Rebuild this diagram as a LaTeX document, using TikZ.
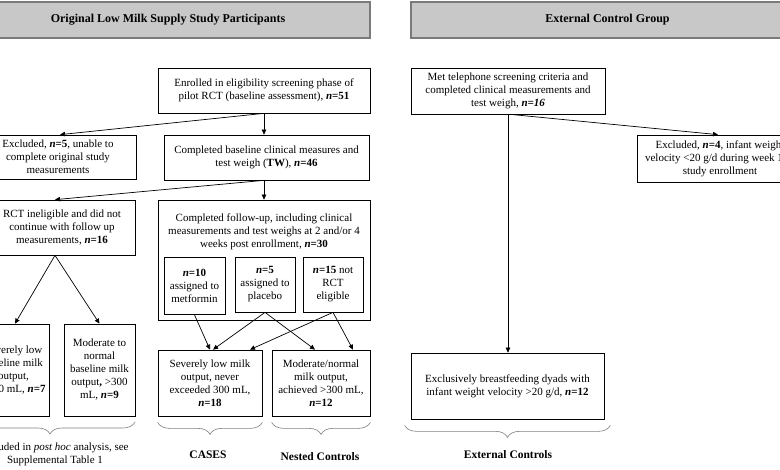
\documentclass[tikz,border=0pt]{standalone}
\usepackage{fontspec}
\setmainfont{Liberation Serif}
\usetikzlibrary{arrows.meta,decorations.pathreplacing}
\definecolor{hdrfill}{HTML}{C8C8C8}
\definecolor{hdrline}{HTML}{7A7A7A}
\definecolor{bracecol}{HTML}{808080}
\begin{document}
\begin{tikzpicture}[x=1pt,y=-1pt,
  txt/.style={font=\fontsize{11}{13}\selectfont},
  box/.style={txt,draw=black,line width=0.7pt,align=center,inner sep=1pt},
  hdr/.style={draw=hdrline,fill=hdrfill,line width=1.3pt,font=\fontsize{12}{14}\selectfont\bfseries},
  arr/.style={draw=black,line width=0.7pt,-{Triangle[length=5pt,width=4.5pt]}},
  brc/.style={draw=bracecol,line width=0.6pt,decorate,decoration={brace,mirror,amplitude=12pt}},
  lbl/.style={txt,align=center},
  blbl/.style={font=\fontsize{11.5}{13}\selectfont\bfseries}]
\useasboundingbox (0,0) rectangle (780,470);
\clip (0,0) rectangle (780,470);
\fill[white] (0,0) rectangle (780,470);
% headers
\node[hdr,minimum width=404pt,minimum height=36pt] (hl) at (168,20) {Original Low Milk Supply Study Participants};
\node[hdr,minimum width=393pt,minimum height=36pt] (hr) at (607.5,20) {External Control Group};
% left column
\node[box,minimum width=212pt,minimum height=45pt] (enr) at (264,90.5)
  {Enrolled in eligibility screening phase of\\ pilot RCT (baseline assessment), \textbf{\textit{n}=51}};
\node[box,minimum width=156pt,minimum height=44pt] (excl5) at (58,157)
  {Excluded, \textbf{\textit{n}=5}, unable to\\ complete original study\\ measurements};
\node[box,minimum width=205pt,minimum height=45pt] (base) at (266.5,157.5)
  {Completed baseline clinical measures and\\ test weigh (\textbf{TW}), \textbf{\textit{n}=46}};
\node[box,minimum width=146pt,minimum height=55pt] (inel) at (62,227.5)
  {RCT ineligible and did not\\ continue with follow up\\ measurements, \textbf{\textit{n}=16}};
\node[box,minimum width=212pt,minimum height=120pt] (fu) at (264,260) {};
\node[lbl] (futxt) at (264,232)
  {Completed follow-up, including clinical\\ measurements and test weighs at 2 and/or 4\\ weeks post enrollment, \textbf{\textit{n}=30}};
\node[box,minimum width=61pt,minimum height=57pt] (met) at (194.5,286)
  {\textbf{\textit{n}=10}\\ assigned to\\ metformin};
\node[box,minimum width=60pt,minimum height=55pt] (plac) at (265,284.5)
  {\textbf{\textit{n}=5}\\ assigned to\\ placebo};
\node[box,minimum width=60pt,minimum height=55pt] (nrct) at (333,284.5)
  {\textbf{\textit{n}=15} not\\ RCT\\ eligible};
\node[box,minimum width=71pt,minimum height=92pt] (sevL) at (13.5,370)
  {Severely low\\ baseline milk\\ output,\\ <300 mL, \textbf{\textit{n}=7}};
\node[box,minimum width=71pt,minimum height=92pt] (modL) at (99.5,370)
  {Moderate to\\ normal\\ baseline milk\\ output\textbf{,} >300\\ mL, \textbf{\textit{n}=9}};
\node[box,minimum width=104pt,minimum height=66pt] (cases) at (210,383)
  {Severely low milk\\ output, never\\ exceeded 300 mL,\\ \textbf{\textit{n}=18}};
\node[box,minimum width=98pt,minimum height=66pt] (nctl) at (321,383)
  {Moderate/normal\\ milk output,\\ achieved >300 mL,\\ \textbf{\textit{n}=12}};
% right column
\node[box,minimum width=194pt,minimum height=46pt] (mtel) at (508,91)
  {Met telephone screening criteria and\\ completed clinical measurements and\\ test weigh, \textbf{\textit{n=16}}};
\node[box,minimum width=166pt,minimum height=47pt] (excl4) at (720,158.5)
  {Excluded, \textbf{\textit{n}=4}, infant weight\\ velocity <20 g/d during week 1 of\\ study enrollment};
\node[box,minimum width=193pt,minimum height=66pt] (extc) at (507.5,386)
  {Exclusively breastfeeding dyads with\\ infant weight velocity >20 g/d, \textbf{\textit{n}=12}};
% connectors
\draw[arr] (enr.south) -- (enr.south |- base.north);
\draw[arr] (enr.south) -- ([xshift=2pt]excl5.north);
\draw[arr] (base.south -| enr.south) -- (fu.north);
\draw[arr] (fu.north |- base.south) -- ([xshift=-7pt]inel.north);
\draw[arr] ([xshift=-7pt]inel.south) -- ([xshift=1.5pt]sevL.north);
\draw[arr] ([xshift=-7pt]inel.south) -- (modL.north);
\draw[arr] (met.south) -- (cases.north);
\draw[arr] (plac.south) -- ([xshift=3pt]cases.north);
\draw[arr] (plac.south) -- ([xshift=-6pt]nctl.north);
\draw[arr] (nrct.south) -- ([xshift=40pt]cases.north);
\draw[arr] (nrct.south) -- ([xshift=32pt]nctl.north);
\draw[arr] (mtel.south) -- (mtel.south |- extc.north);
\draw[arr] ([xshift=2pt]mtel.south) -- ([xshift=-2pt]excl4.north);
% braces
\coordinate (bl1) at (-35,422);
\coordinate (bl2) at (135,422);
\draw[brc] (bl1) -- (bl2);
\draw[brc] ([yshift=-6pt]cases.south west) -- ([yshift=-6pt]cases.south east);
\draw[brc] ([yshift=-6pt]nctl.south west) -- ([yshift=-6pt]nctl.south east);
\draw[brc] ([xshift=-6pt,yshift=-6pt]extc.south west) -- ([xshift=6pt,yshift=-6pt]extc.south east);
% labels
\node[lbl] (posthoc) at (55,454) {Included in \textit{post hoc} analysis, see\\ Supplemental Table 1};
\node[blbl] (caseslbl) at (208,455) {CASES};
\node[blbl] (nclbl) at (320,457) {Nested Controls};
\node[blbl] (eclbl) at (508,455) {External Controls};
\end{tikzpicture}
\end{document}
